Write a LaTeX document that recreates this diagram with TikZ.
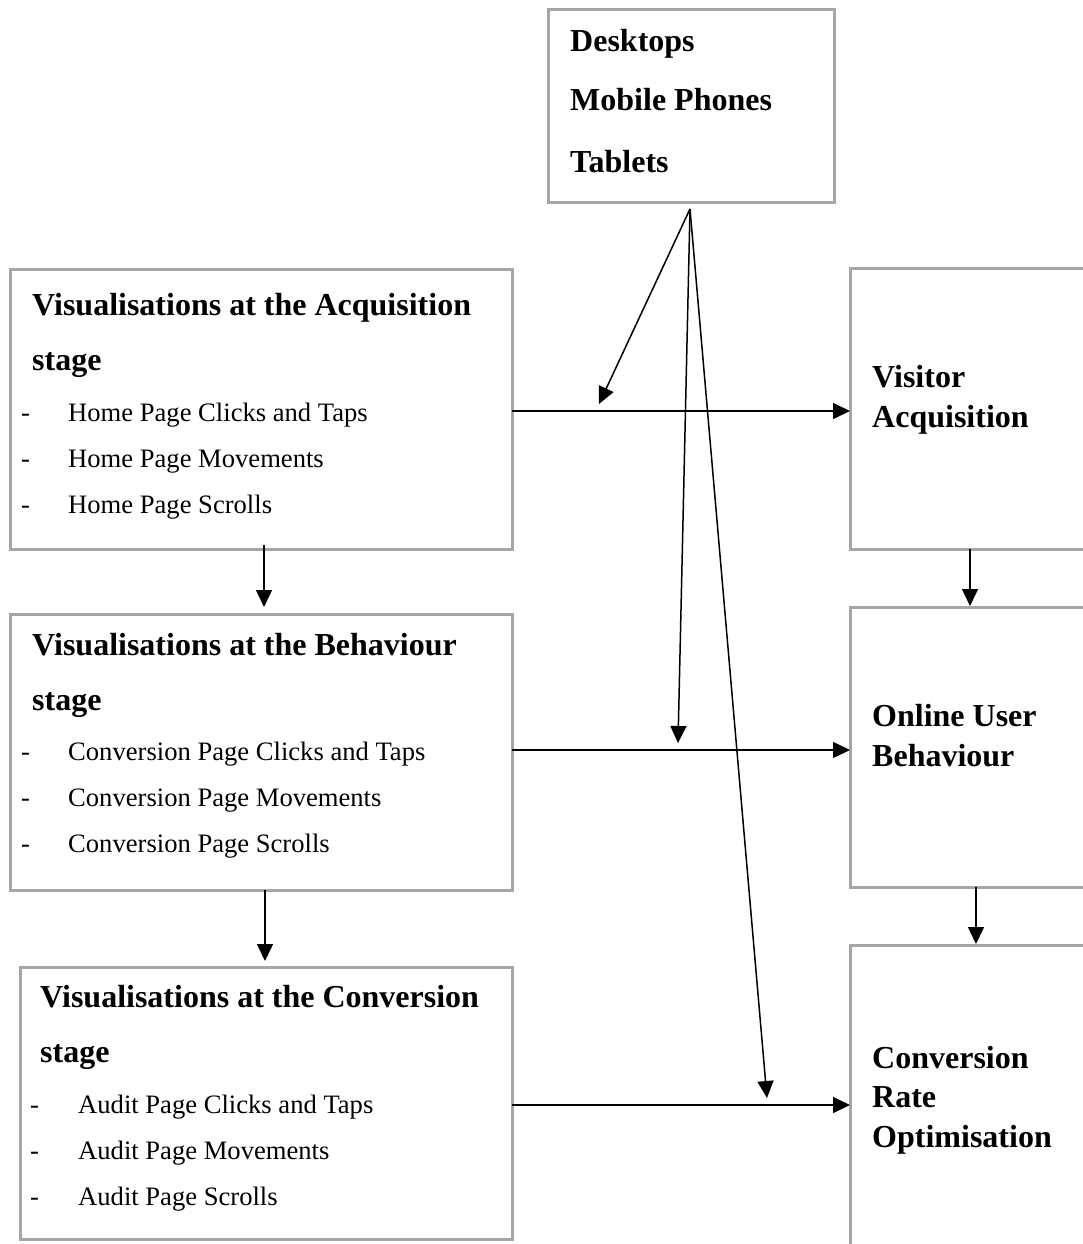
\documentclass[tikz,border=0pt]{standalone}
\usepackage{fontspec}
\setmainfont{Liberation Serif}
\usetikzlibrary{arrows.meta,calc}
\definecolor{boxgray}{HTML}{A6A6A6}
\begin{document}
\begin{tikzpicture}[x=1pt,y=-1pt,
  box/.style={draw=boxgray, line width=3pt, rectangle, inner sep=0pt, outer sep=0pt, anchor=north west},
  arr/.style={line width=1.5pt, -{Triangle[length=17pt,width=16pt]}},
  hd/.style={anchor=base west, inner sep=0pt, font=\fontsize{32}{38}\selectfont\bfseries},
  it/.style={anchor=base west, inner sep=0pt, font=\fontsize{26.6}{32}\selectfont}]
\useasboundingbox (0,0) rectangle (1083,1244);
\path[clip] (0,0) rectangle (1083,1244);
\fill[white] (0,0) rectangle (1083,1244);

% boxes
\node[box, minimum width=286, minimum height=192] (T) at (548,10) {};
\node[box, minimum width=502, minimum height=280] (A) at (10,269) {};
\node[box, minimum width=502, minimum height=276] (B) at (10,614) {};
\node[box, minimum width=492, minimum height=272] (C) at (20,967) {};
\node[box, minimum width=250, minimum height=281] (RA) at (850,268) {};
\node[box, minimum width=250, minimum height=280] (RB) at (850,607) {};
\node[box, minimum width=250, minimum height=330] (RC) at (850,945) {};

% top box text
\node[hd] (t1txt) at (570,52) {Desktops};
\node[hd] (t2txt) at (570,111) {Mobile Phones};
\node[hd] (t3txt) at (570,172) {Tablets};

% box A text
\node[hd] (a1) at (32,315) {Visualisations at the Acquisition};
\node[hd] (a2) at (32,370) {stage};
\node[it] (ad1) at (21,421) {-};
\node[it] (ai1) at (68,421) {Home Page Clicks and Taps};
\node[it] (ad2) at (21,467) {-};
\node[it] (ai2) at (68,467) {Home Page Movements};
\node[it] (ad3) at (21,513) {-};
\node[it] (ai3) at (68,513) {Home Page Scrolls};

% box B text
\node[hd] (b1) at (32,655) {Visualisations at the Behaviour};
\node[hd] (b2) at (32,710) {stage};
\node[it] (bd1) at (21,760) {-};
\node[it] (bi1) at (68,760) {Conversion Page Clicks and Taps};
\node[it] (bd2) at (21,806) {-};
\node[it] (bi2) at (68,806) {Conversion Page Movements};
\node[it] (bd3) at (21,852) {-};
\node[it] (bi3) at (68,852) {Conversion Page Scrolls};

% box C text
\node[hd] (c1) at (40,1007) {Visualisations at the Conversion};
\node[hd] (c2) at (40,1062) {stage};
\node[it] (cd1) at (30,1113) {-};
\node[it] (ci1) at (78,1113) {Audit Page Clicks and Taps};
\node[it] (cd2) at (30,1159) {-};
\node[it] (ci2) at (78,1159) {Audit Page Movements};
\node[it] (cd3) at (30,1205) {-};
\node[it] (ci3) at (78,1205) {Audit Page Scrolls};

% right boxes text
\node[hd] (ra1) at (872,387) {Visitor};
\node[hd] (ra2) at (872,427) {Acquisition};
\node[hd] (rb1) at (872,726) {Online User};
\node[hd] (rb2) at (872,766) {Behaviour};
\node[hd] (rc1) at (872,1068) {Conversion};
\node[hd] (rc2) at (872,1107) {Rate};
\node[hd] (rc3) at (872,1147) {Optimisation};

% horizontal arrows
\draw[arr] ($(A.east)+(0,2)$) -- ($(A.east -| RA.west)+(0,2)$);
\draw[arr] ($(B.east)+(0,-2)$) -- ($(B.east -| RB.west)+(0,-2)$);
\draw[arr] ($(C.east)+(0,2)$) -- ($(C.east -| RC.west)+(0,2)$);

% vertical arrows
\draw[arr] ($(A.south)+(3,-4)$) -- ($(A.south |- B.north)+(3,-7)$);
\draw[arr] ($(B.south)+(4,0)$) -- ($(B.south |- C.north)+(4,-6)$);
\draw[arr] ($(RA.south)+(-5,0)$) -- ($(RA.south |- RB.north)+(-5,-1)$);
\draw[arr] ($(RB.south)+(1,0)$) -- ($(RB.south |- RC.north)+(1,-1)$);

% converging arrows from devices
\coordinate (src) at ($(T.south)+(-1,7)$);
\coordinate (e1) at (599,404);
\coordinate (e2) at (678,743);
\coordinate (e3) at (767,1098);
\draw[arr] (src) -- (e1);
\draw[arr] (src) -- (e2);
\draw[arr] (src) -- (e3);
\end{tikzpicture}
\end{document}
